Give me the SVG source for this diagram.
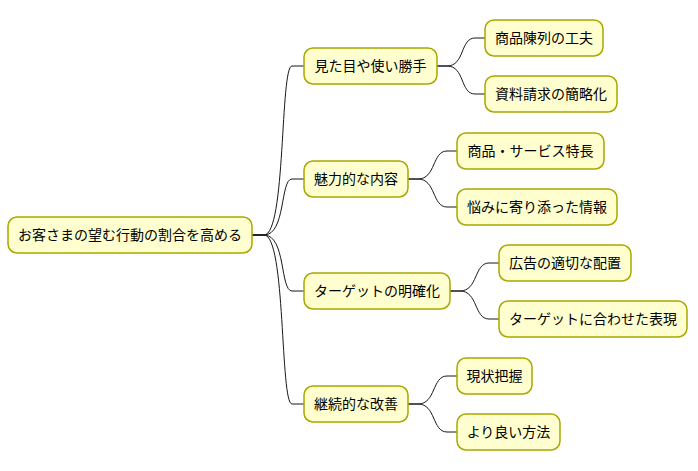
<svg xmlns="http://www.w3.org/2000/svg" width="698" height="471" viewBox="0 0 698 471">
<style>
.n rect{fill:#FEFECE;stroke:#A8A800;stroke-width:1.5}
.n text{font-family:"Liberation Sans","Noto Sans CJK JP",sans-serif;font-size:14px;fill:#000;text-anchor:middle;dominant-baseline:central}
#c path{fill:none;stroke:#181818;stroke-width:1}
</style>
<rect width="698" height="471" fill="#fff"/>
<g id="c">
<path d="M252,235 L264,235 C286,235 280,66 292,66 L304,66"/>
<path d="M252,235 L264,235 C286,235 280,179 292,179 L304,179"/>
<path d="M252,235 L264,235 C286,235 280,291 292,291 L304,291"/>
<path d="M252,235 L264,235 C286,235 280,404 292,404 L304,404"/>
<path d="M437,66 L447,66 C465,66 460,38 475,38 L485,38"/>
<path d="M437,66 L447,66 C465,66 460,94 475,94 L485,94"/>
<path d="M408,179 L418,179 C436,179 432,151 447,151 L457,151"/>
<path d="M408,179 L418,179 C436,179 432,207 447,207 L457,207"/>
<path d="M450,291 L460,291 C478,291 474,263 489,263 L499,263"/>
<path d="M450,291 L460,291 C478,291 474,319 489,319 L499,319"/>
<path d="M408,404 L418,404 C436,404 432,376 447,376 L457,376"/>
<path d="M408,404 L418,404 C436,404 432,432 447,432 L457,432"/>
</g>
<g id="root" class="n"><rect x="8" y="217" width="244" height="36" rx="9"/><text x="130" y="235">お客さまの望む行動の割合を高める</text></g>
<g id="a" class="n"><rect x="304" y="48" width="133" height="36" rx="9"/><text x="370.5" y="66">見た目や使い勝手</text></g>
<g id="b" class="n"><rect x="304" y="161" width="104" height="36" rx="9"/><text x="356" y="179">魅力的な内容</text></g>
<g id="c1" class="n"><rect x="304" y="273" width="146" height="36" rx="9"/><text x="377" y="291">ターゲットの明確化</text></g>
<g id="d" class="n"><rect x="304" y="386" width="104" height="36" rx="9"/><text x="356" y="404">継続的な改善</text></g>
<g id="a1" class="n"><rect x="485" y="20" width="118" height="36" rx="9"/><text x="544" y="38">商品陳列の工夫</text></g>
<g id="a2" class="n"><rect x="485" y="76" width="132" height="36" rx="9"/><text x="551" y="94">資料請求の簡略化</text></g>
<g id="b1" class="n"><rect x="457" y="133" width="147" height="36" rx="9"/><text x="530.5" y="151">商品・サービス特長</text></g>
<g id="b2" class="n"><rect x="457" y="189" width="160" height="36" rx="9"/><text x="537" y="207">悩みに寄り添った情報</text></g>
<g id="c2" class="n"><rect x="499" y="245" width="132" height="36" rx="9"/><text x="565" y="263">広告の適切な配置</text></g>
<g id="c3" class="n"><rect x="499" y="301" width="188" height="36" rx="9"/><text x="593" y="319">ターゲットに合わせた表現</text></g>
<g id="d1" class="n"><rect x="457" y="358" width="75" height="36" rx="9"/><text x="494.5" y="376">現状把握</text></g>
<g id="d2" class="n"><rect x="457" y="414" width="103" height="36" rx="9"/><text x="508.5" y="432">より良い方法</text></g>
</svg>
